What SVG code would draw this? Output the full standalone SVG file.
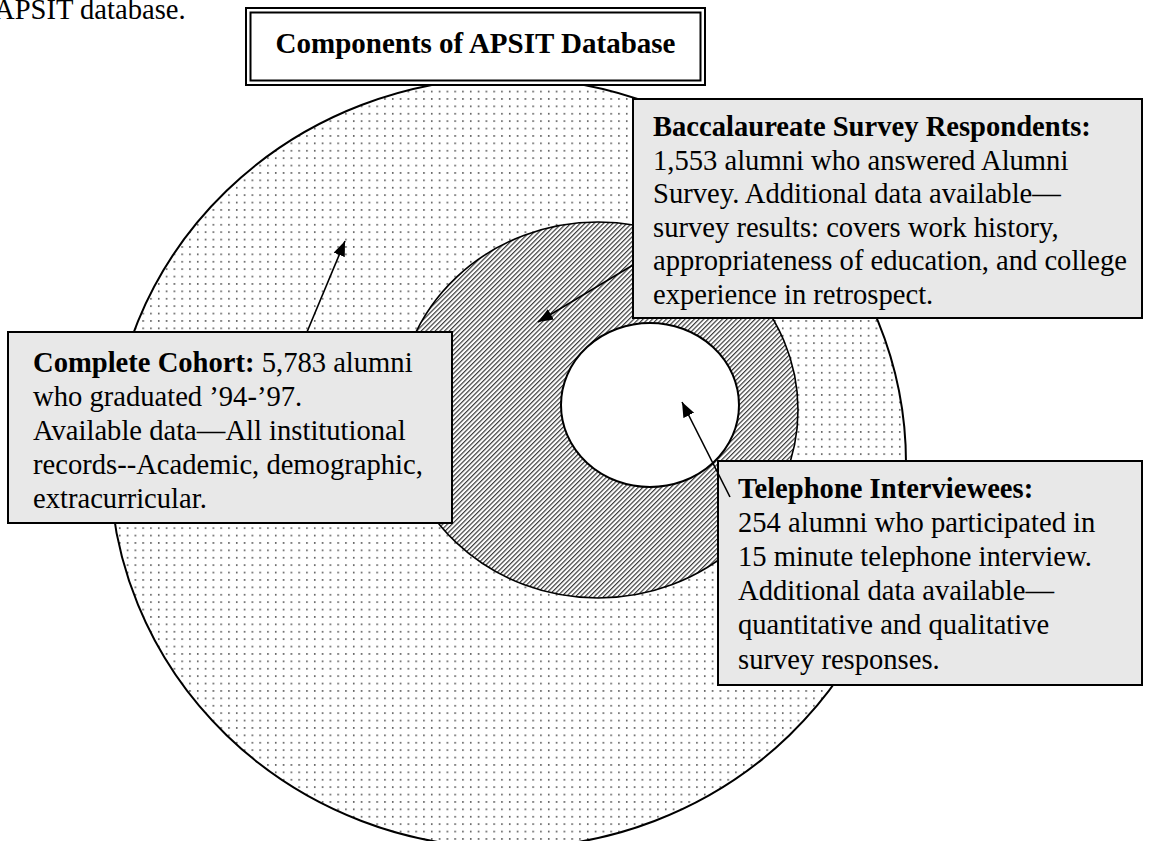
<svg xmlns="http://www.w3.org/2000/svg" width="1156" height="841" viewBox="0 0 1156 841">
<style>
  .t { font-family: "Liberation Serif", "Times New Roman", serif; font-size: 28.6px; fill: #000; }
  .b { font-weight: bold; }
  .box { fill: #e8e8e8; stroke: #000; stroke-width: 2; }
  .conn { stroke: #000; stroke-width: 1.6; fill: none; marker-end: url(#ah); }
</style>
<defs>
  <pattern id="dots" patternUnits="userSpaceOnUse" width="7.8" height="7.4">
    <rect x="2" y="2" width="1.5" height="1.5" fill="#3a3a3a"/>
  </pattern>
  <pattern id="hatch" patternUnits="userSpaceOnUse" width="3.3" height="3.3" patternTransform="rotate(-45)">
    <rect x="0" y="0" width="3.3" height="1.2" fill="#3c3c3c"/>
  </pattern>
  <marker id="ah" markerUnits="userSpaceOnUse" markerWidth="17" markerHeight="13" refX="15" refY="6" orient="auto">
    <path d="M0,0 L15,6 L0,12 z" fill="#000"/>
  </marker>
</defs>
<rect width="1156" height="841" fill="#fff"/>
<text class="t" x="-6" y="19">APSIT database.</text>

<g id="outer-circle">
  <ellipse cx="508" cy="463" rx="398" ry="385" fill="#fff"/>
  <ellipse cx="508" cy="463" rx="398" ry="385" fill="url(#dots)" stroke="#000" stroke-width="2"/>
</g>
<g id="middle-ring">
  <ellipse cx="598" cy="410" rx="200" ry="188" fill="#fff"/>
  <ellipse cx="598" cy="410" rx="200" ry="188" fill="url(#hatch)" stroke="#000" stroke-width="1.6"/>
</g>
<g id="inner-circle">
  <ellipse cx="650" cy="405" rx="89" ry="82" fill="#fff" stroke="#000" stroke-width="2"/>
</g>

<g id="title">
  <rect x="246" y="8" width="459" height="77" fill="#fff" stroke="#000" stroke-width="2"/>
  <rect x="250.5" y="12.5" width="450" height="68" fill="none" stroke="#000" stroke-width="2"/>
  <text class="t b" x="475.5" y="53" text-anchor="middle" style="font-size:29px">Components of APSIT Database</text>
</g>

<g id="baccalaureate">
  <rect class="box" x="633" y="99" width="509" height="219"/>
  <text class="t b" x="653" y="136">Baccalaureate Survey Respondents:</text>
  <text class="t" x="653" y="169.5">1,553 alumni who answered Alumni</text>
  <text class="t" x="653" y="203">Survey. Additional data available—</text>
  <text class="t" x="653" y="236.5">survey results: covers work history,</text>
  <text class="t" x="653" y="270">appropriateness of education, and college</text>
  <text class="t" x="653" y="303.5">experience in retrospect.</text>
</g>

<g id="complete-cohort">
  <rect class="box" x="8" y="332" width="444" height="191"/>
  <text class="t" x="33" y="372"><tspan class="b">Complete Cohort:</tspan> 5,783 alumni</text>
  <text class="t" x="33" y="406">who graduated ’94-’97.</text>
  <text class="t" x="33" y="440">Available data—All institutional</text>
  <text class="t" x="33" y="474">records--Academic, demographic,</text>
  <text class="t" x="33" y="508">extracurricular.</text>
</g>

<g id="telephone">
  <rect class="box" x="718" y="461" width="424" height="224"/>
  <text class="t b" x="738" y="498">Telephone Interviewees:</text>
  <text class="t" x="738" y="532">254 alumni who participated in</text>
  <text class="t" x="738" y="566">15 minute telephone interview.</text>
  <text class="t" x="738" y="600">Additional data available—</text>
  <text class="t" x="738" y="634">quantitative and qualitative</text>
  <text class="t" x="738" y="669">survey responses.</text>
</g>

<g id="connectors">
  <line class="conn" x1="307" y1="332" x2="345" y2="241"/>
  <line class="conn" x1="633" y1="265" x2="538" y2="322"/>
  <line class="conn" x1="730" y1="497" x2="682" y2="402"/>
</g>
</svg>
